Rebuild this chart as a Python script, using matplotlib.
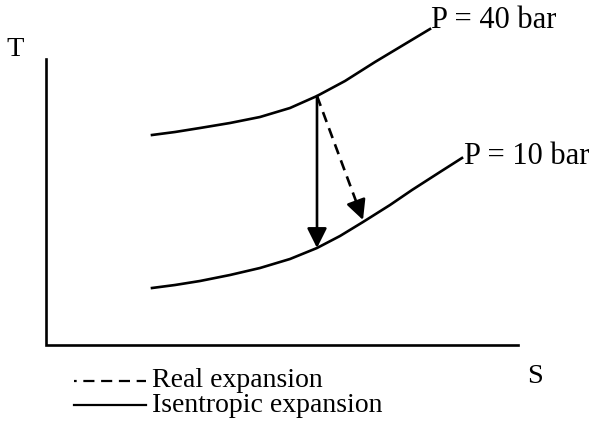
import matplotlib.pyplot as plt

# ----------------- Data (pixel-like units) -----------------

# constant pressure lines in the T-S plane
s_40bar = [152, 175, 200, 230, 260, 290, 317, 345, 375, 405, 430]
t_40bar = [136, 133, 129, 124, 118, 109, 97, 82, 63, 45, 30]
s_10bar = [152, 175, 200, 230, 260, 290, 317, 340, 363, 390, 412, 440, 462]
t_10bar = [289, 286, 282, 276, 269, 260, 249, 237, 223, 206, 191, 173, 159]

curve_labels = ["P = 40 bar", "P = 10 bar"]

# expansion start / end points
start_point = (317, 97)
isentropic_end = (317, 249)
real_end = (363, 221)

legend_labels = ["Real expansion", "Isentropic expansion"]

# ----------------- Figure -----------------

plt.rcParams['font.family'] = ['Liberation Serif', 'DejaVu Serif']

fig = plt.figure(figsize=(5.95, 4.39), dpi=100)
ax = fig.add_axes([0, 0, 1, 1])
ax.set_xlim(0, 595)
ax.set_ylim(439, 0)
ax.axis("off")

lw = 1.9
fs = 20.5

# axes of the diagram
ax.plot([46, 46, 518], [60, 346, 346], color='black', lw=lw, solid_joinstyle='miter')
ax.text(15, 50, "T", fontsize=fs, ha='center', va='center')
ax.text(535, 377, "S", fontsize=fs, ha='center', va='center')

# pressure lines
ax.plot(s_40bar, t_40bar, color='black', lw=lw, solid_joinstyle='round')
ax.plot(s_10bar, t_10bar, color='black', lw=lw, solid_joinstyle='round')
ax.text(s_40bar[-1] + 1, t_40bar[-1] - 10, curve_labels[0], fontsize=22, ha='left', va='center')
ax.text(s_10bar[-1] + 2, t_10bar[-1] - 2, curve_labels[1], fontsize=22, ha='left', va='center')

# isentropic expansion (solid arrow)
ax.annotate("", xy=isentropic_end, xytext=start_point,
            arrowprops=dict(arrowstyle='-|>', color='black', lw=lw,
                            mutation_scale=30, shrinkA=0, shrinkB=0))

# real expansion (dashed line + solid head)
sx, sy = start_point
ex, ey = real_end
frac = 0.85
mx, my = sx + (ex - sx) * frac, sy + (ey - sy) * frac
ax.plot([sx, mx], [sy, my], color='black', lw=lw, linestyle=(0, (4, 2.5)))
ax.annotate("", xy=real_end, xytext=(mx, my),
            arrowprops=dict(arrowstyle='-|>', color='black', lw=lw,
                            mutation_scale=30, shrinkA=0, shrinkB=0))

# legend
ax.plot([74, 146], [382, 382], color='black', lw=1.6, linestyle=(3.8, (5, 3)))
ax.plot([74, 146], [406, 406], color='black', lw=1.6)
ax.text(152, 381, legend_labels[0], fontsize=20, ha='left', va='center')
ax.text(152, 406, legend_labels[1], fontsize=20, ha='left', va='center')

fig.savefig("out.png", dpi=100)
